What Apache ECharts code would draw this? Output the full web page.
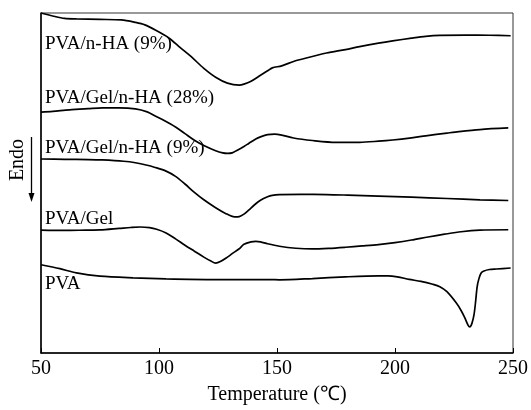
<!DOCTYPE html>
<html>
<head>
<meta charset="utf-8">
<script src="https://cdn.jsdelivr.net/npm/echarts@6/dist/echarts.min.js"></script>
<style>
  html, body { margin: 0; padding: 0; background: #fff; }
  #chart { width: 531px; height: 410px; }
</style>
</head>
<body>
<div id="chart"></div>
<script>
// DSC curves, [temperature in C, endo signal (a.u., grows downward)]
const pvaNHA9 = [
  [50, 13], [55, 16], [60, 18.5], [65, 19], [75, 19.5], [84, 20], [90, 22.5], [94, 25],
  [99, 31], [104, 38], [109, 48], [114, 58], [119, 69], [124, 78], [129, 84], [134, 86],
  [136, 85], [139, 82], [143, 76], [146, 71.5], [148, 68.5], [152, 66.5], [157, 62],
  [160, 60], [171, 53.5], [179, 50], [185, 47], [193, 43.5], [199, 41.2], [207, 38.5],
  [213, 36.7], [219, 35.7], [230, 35.3], [240, 35.5], [249, 36]
]
const pvaGelNHA28 = [
  [50, 113.3], [55, 112.5], [62, 111], [70, 109.8], [76, 109], [83, 109], [90, 110],
  [95, 113], [98, 116.7], [102, 121.5], [107, 128.3], [111, 135], [115, 141.7], [119, 147],
  [124, 152.3], [127, 154.5], [129, 155], [131, 154.5], [133, 152], [136, 148], [138, 145],
  [141, 140.5], [143, 138.3], [146, 136], [149, 135.5], [152, 136.5], [157, 139.5], [165, 142],
  [175, 143.8], [185, 143.8], [193, 142.7], [199, 141.5], [207, 139.3], [213, 137.3],
  [222, 134.5], [227, 133], [236, 130.9], [248, 129.3]
]
const pvaGelNHA9 = [
  [50, 160.7], [60, 161], [70, 161.3], [76, 161.7], [85, 163], [90, 164.5], [95, 167],
  [98, 169], [103, 173], [107, 178.3], [111, 186], [115, 194.5], [119, 202], [124, 210],
  [128, 215.5], [132, 219.3], [134, 219], [136, 216.5], [138, 212.5], [140.5, 207],
  [143, 202.5], [146, 199], [148, 197.5], [151, 196.7], [160, 196.5], [171, 196.7],
  [180, 197.3], [193, 198.3], [207, 199.3], [222, 200.7], [236, 202], [248, 202.7]
]
const pvaGel = [
  [50, 232.7], [60, 233], [69, 232.7], [75, 232.5], [83, 231], [88, 230], [92, 229.5],
  [96, 230.2], [99, 231.8], [103, 235.5], [107, 241.5], [111, 248], [115, 254], [119, 260],
  [122, 264], [124, 266], [126, 264.5], [129, 260], [131, 256.5], [134, 251.5], [136, 247],
  [139, 244.5], [141, 244], [143, 244.5], [146, 246.5], [151, 249], [158, 251], [165, 251.7],
  [172, 251.1], [179, 250], [186, 248.7], [193, 247.3], [200, 245.3], [207, 242.7],
  [214, 239.6], [221, 236.8], [228, 234.3], [236, 232.7], [248, 232.3]
]
const pva = [
  [50, 267.7], [58, 271.7], [65, 276], [75, 279.3], [89, 281], [103, 282], [124, 282.7],
  [147, 282.7], [151, 283], [165, 281.7], [179, 280], [193, 279], [197, 279], [201, 280],
  [206, 282.5], [211, 284.5], [216, 287.5], [219, 290], [222, 295], [226, 306.5], [228, 314],
  [229.5, 321], [231, 329], [231.7, 330.5], [232.6, 327], [233.5, 318], [234.2, 304],
  [234.8, 290], [235.6, 281.5], [236.5, 276], [237.7, 274], [240, 272.5], [243, 272], [249, 271]
]

const seriesNames = ['PVA/n-HA (9%)', 'PVA/Gel/n-HA (28%)', 'PVA/Gel/n-HA (9%)', 'PVA/Gel', 'PVA']
const seriesData = [pvaNHA9, pvaGelNHA28, pvaGelNHA9, pvaGel, pva]
const xTicks = [50, 100, 150, 200, 250]

const font = '"Liberation Serif", "Times New Roman", serif'
const chart = echarts.init(document.getElementById('chart'))

// curve labels sit just above the left end of each trace
const labelTop = [46, 100, 150, 221, 286]

chart.setOption({
  animation: false,
  grid: {
    left: 41, top: 13, width: 473, height: 344,
    show: true, borderColor: '#333', borderWidth: 1
  },
  xAxis: {
    type: 'value',
    min: 50, max: 250, interval: 50,
    name: 'Temperature (℃)',
    nameLocation: 'middle',
    nameGap: 32,
    nameTextStyle: { fontFamily: font, fontSize: 20, color: '#000' },
    axisLine: { lineStyle: { color: '#000', width: 1.5 } },
    axisTick: { inside: true, length: 5, lineStyle: { color: '#000' } },
    axisLabel: {
      margin: 6, fontFamily: font, fontSize: 20, color: '#000',
      customValues: xTicks
    },
    splitLine: { show: false }
  },
  yAxis: {
    type: 'value',
    inverse: true,
    min: 13, max: 357,
    axisLine: { show: true, lineStyle: { color: '#000', width: 1.5 } },
    axisTick: { show: false },
    axisLabel: { show: false },
    splitLine: { show: false }
  },
  series: seriesData.map((d, i) => ({
    name: seriesNames[i],
    type: 'line',
    data: d,
    smooth: 0.3,
    showSymbol: false,
    lineStyle: { color: '#000', width: 1.7 }
  })),
  graphic: [
    ...seriesNames.map((n, i) => ({
      type: 'text',
      left: 45,
      top: labelTop[i] - 11,
      style: { text: n, font: '19px ' + font, fill: '#000' }
    })),
    {
      type: 'text',
      x: 18, y: 160,
      rotation: Math.PI / 2,
      style: { text: 'Endo', font: '20px ' + font, fill: '#000', align: 'center', verticalAlign: 'middle' }
    },
    {
      type: 'line',
      shape: { x1: 31.5, y1: 137, x2: 31.5, y2: 195 },
      style: { stroke: '#000', lineWidth: 1.3 }
    },
    {
      type: 'polygon',
      shape: { points: [[28.5, 193], [34.5, 193], [31.5, 202]] },
      style: { fill: '#000' }
    }
  ]
})
</script>
</body>
</html>
